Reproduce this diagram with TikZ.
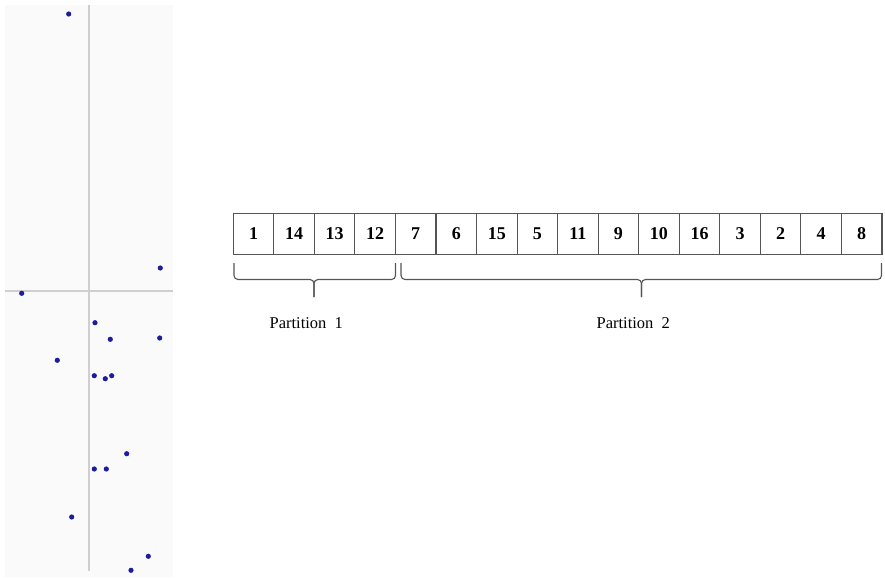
\documentclass[tikz,border=0pt]{standalone}
\usepackage{fontspec}
\setmainfont{Liberation Serif}
\usetikzlibrary{positioning}
\definecolor{panelbg}{HTML}{FAFAFA}
\definecolor{axisgray}{HTML}{CFCFCF}
\definecolor{dotblue}{HTML}{1C1C9C}
\definecolor{boxline}{HTML}{555555}
\tikzset{
  cell/.style={draw=boxline, line width=1.1pt, minimum width=40.54pt, minimum height=41pt,
    inner sep=0pt, outer sep=0pt, font=\fontsize{18}{18}\selectfont\bfseries, anchor=west},
  pt/.style={fill=dotblue, draw=none},
  brace/.style={draw=boxline, line width=1.1pt, rounded corners=4pt},
  plabel/.style={font=\fontsize{16.5}{18}\selectfont, text=black, inner sep=0pt}
}
\begin{document}
\begin{tikzpicture}[x=1pt, y=-1pt]
  \useasboundingbox (0,0) rectangle (885,579);
  % scatter panel
  \fill[panelbg] (5,5) rectangle (173,577);
  \draw[axisgray, line width=1.5pt] (89,5) -- (89,571);
  \draw[axisgray, line width=1.5pt] (5,291) -- (173,291);
  \foreach \px/\py in {68.7/14, 160.3/268, 21.7/293.3, 95/322.7, 110.3/339.3,
      159.7/338, 57.3/360.3, 94.3/375.7, 105.3/378.7, 111.7/375.7, 126.7/453.7,
      94.3/469, 106.3/469, 71.7/517, 148.3/556.3, 131/570.3}
    \fill[pt] (\px,\py) circle (2.6pt);
  % array of cells
  \node[cell] (c1) at (233.3,233.8) {1};
  \node[cell, right=0pt of c1] (c2) {14};
  \node[cell, right=0pt of c2] (c3) {13};
  \node[cell, right=0pt of c3] (c4) {12};
  \node[cell, right=0pt of c4] (c5) {7};
  \node[cell, right=0pt of c5] (c6) {6};
  \node[cell, right=0pt of c6] (c7) {15};
  \node[cell, right=0pt of c7] (c8) {5};
  \node[cell, right=0pt of c8] (c9) {11};
  \node[cell, right=0pt of c9] (c10) {9};
  \node[cell, right=0pt of c10] (c11) {10};
  \node[cell, right=0pt of c11] (c12) {16};
  \node[cell, right=0pt of c12] (c13) {3};
  \node[cell, right=0pt of c13] (c14) {2};
  \node[cell, right=0pt of c14] (c15) {4};
  \node[cell, right=0pt of c15] (c16) {8};
  % braces under the partitions
  \draw[brace] (234,263) -- (234,279.5) -- (314,279.5) -- (314,297);
  \draw[brace] (395.5,263) -- (395.5,279.5) -- (314,279.5) -- (314,297);
  \draw[brace] (401,263) -- (401,279.5) -- (641.5,279.5) -- (641.5,297);
  \draw[brace] (881.5,263) -- (881.5,279.5) -- (641.5,279.5) -- (641.5,297);
  \node[plabel] (p1) at (306.3,323) {Partition\ \ 1};
  \node[plabel] (p2) at (633.3,323) {Partition\ \ 2};
\end{tikzpicture}
\end{document}
